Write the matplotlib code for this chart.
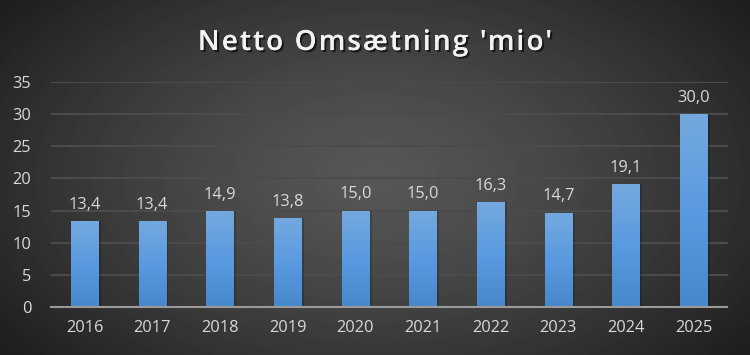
import numpy as np
import matplotlib
matplotlib.use("Agg")
import matplotlib.pyplot as plt
import matplotlib.patheffects as pe
from matplotlib.colors import LinearSegmentedColormap

years = ["2016", "2017", "2018", "2019", "2020", "2021", "2022", "2023", "2024", "2025"]
values = [13.4, 13.4, 14.9, 13.8, 15.0, 15.0, 16.3, 14.7, 19.1, 30.0]
labels = ["13,4", "13,4", "14,9", "13,8", "15,0", "15,0", "16,3", "14,7", "19,1", "30,0"]
yticks = [0, 5, 10, 15, 20, 25, 30, 35]
title = "Netto Omsætning 'mio'"

plt.rcParams['font.family'] = ['Open Sans', 'DejaVu Sans']

fig = plt.figure(figsize=(7.5, 3.55), dpi=100)

# radial background
bg = fig.add_axes([0, 0, 1, 1], zorder=-10)
W, H = 750, 355
xx, yy = np.meshgrid(np.linspace(-1, 1, W), np.linspace(-1, 1, H))
r = np.sqrt((xx / 1.0) ** 2 + (yy / 1.25) ** 2)
r = np.clip(r / 1.25, 0, 1)
light, dark = 0.34, 0.12
img = light - (light - dark) * r ** 1.3
bg.imshow(img, cmap='gray', vmin=0, vmax=1, aspect='auto', extent=[0, 1, 0, 1])
bg.set_axis_off()

ax = fig.add_axes([50.7 / 750, 48 / 355, (727.5 - 50.7) / 750, (307 - 82) / 355])
ax.patch.set_alpha(0)
x = np.arange(len(years))
bars = ax.bar(x, values, width=0.4, color='none', zorder=3)

cmap = LinearSegmentedColormap.from_list('b', ['#4787cb', '#5a9ae0', '#74a9de'])
grad = np.linspace(0, 1, 256).reshape(-1, 1)
for b, v in zip(bars, values):
    x0 = b.get_x(); w = b.get_width()
    ax.bar(x0 + w / 2 + 0.02, v, width=w + 0.04, color='black', alpha=0.18, zorder=2)
    im = ax.imshow(grad, cmap=cmap, origin='lower', aspect='auto',
                   extent=[x0, x0 + w, 0, v], zorder=3)
    im.set_clip_path(b)

for xi, v, lab in zip(x, values, labels):
    ax.annotate(lab, (xi, v), xytext=(0, 6), textcoords='offset points',
                ha='center', va='bottom', color='#d9d9d9', fontsize=11.8)

ax.set_xlim(-0.5, len(years) - 0.5)
ax.set_ylim(0, 35)
ax.set_yticks(yticks)
ax.set_yticklabels([str(t) for t in yticks])
ax.set_xticks(x)
ax.set_xticklabels(years)
ax.tick_params(axis='both', length=0, colors='#d9d9d9', labelsize=11.8)
ax.tick_params(axis='x', pad=9)
ax.tick_params(axis='y', pad=14)
ax.grid(axis='y', color='#4b4b4b', linewidth=1.5, zorder=0)
ax.set_axisbelow(True)
for s in ['top', 'right', 'left']:
    ax.spines[s].set_visible(False)
ax.spines['bottom'].set_color('#9a9a9a')
ax.spines['bottom'].set_linewidth(1.5)
ax.spines['bottom'].set_zorder(5)

# title with letter spacing
renderer = fig.canvas.get_renderer()
tkw = dict(fontsize=20, fontweight='semibold', color='#f2f2f2')
spacing = 2.2  # px
def width_of(s):
    t = fig.text(0, 0, s, **tkw)
    wdt = t.get_window_extent(renderer).width
    t.remove()
    return wdt
lefts = []
for i, ch in enumerate(title):
    if ch == ' ':
        lefts.append(None)
        continue
    full = width_of(title[:i + 1])
    lefts.append(full - width_of(ch) + i * spacing)
total = width_of(title) + (len(title) - 1) * spacing
start = 375 - total / 2
ytitle = 1 - 39 / 355
shadow = [pe.withSimplePatchShadow(offset=(1.5, -1.5), shadow_rgbFace='black', alpha=0.6), pe.Normal()]
for ch, lx in zip(title, lefts):
    if lx is None:
        continue
    fig.text((start + lx) / 750, ytitle, ch, ha='left', va='center_baseline',
             path_effects=shadow, **tkw)

fig.savefig('out.png', dpi=100)
